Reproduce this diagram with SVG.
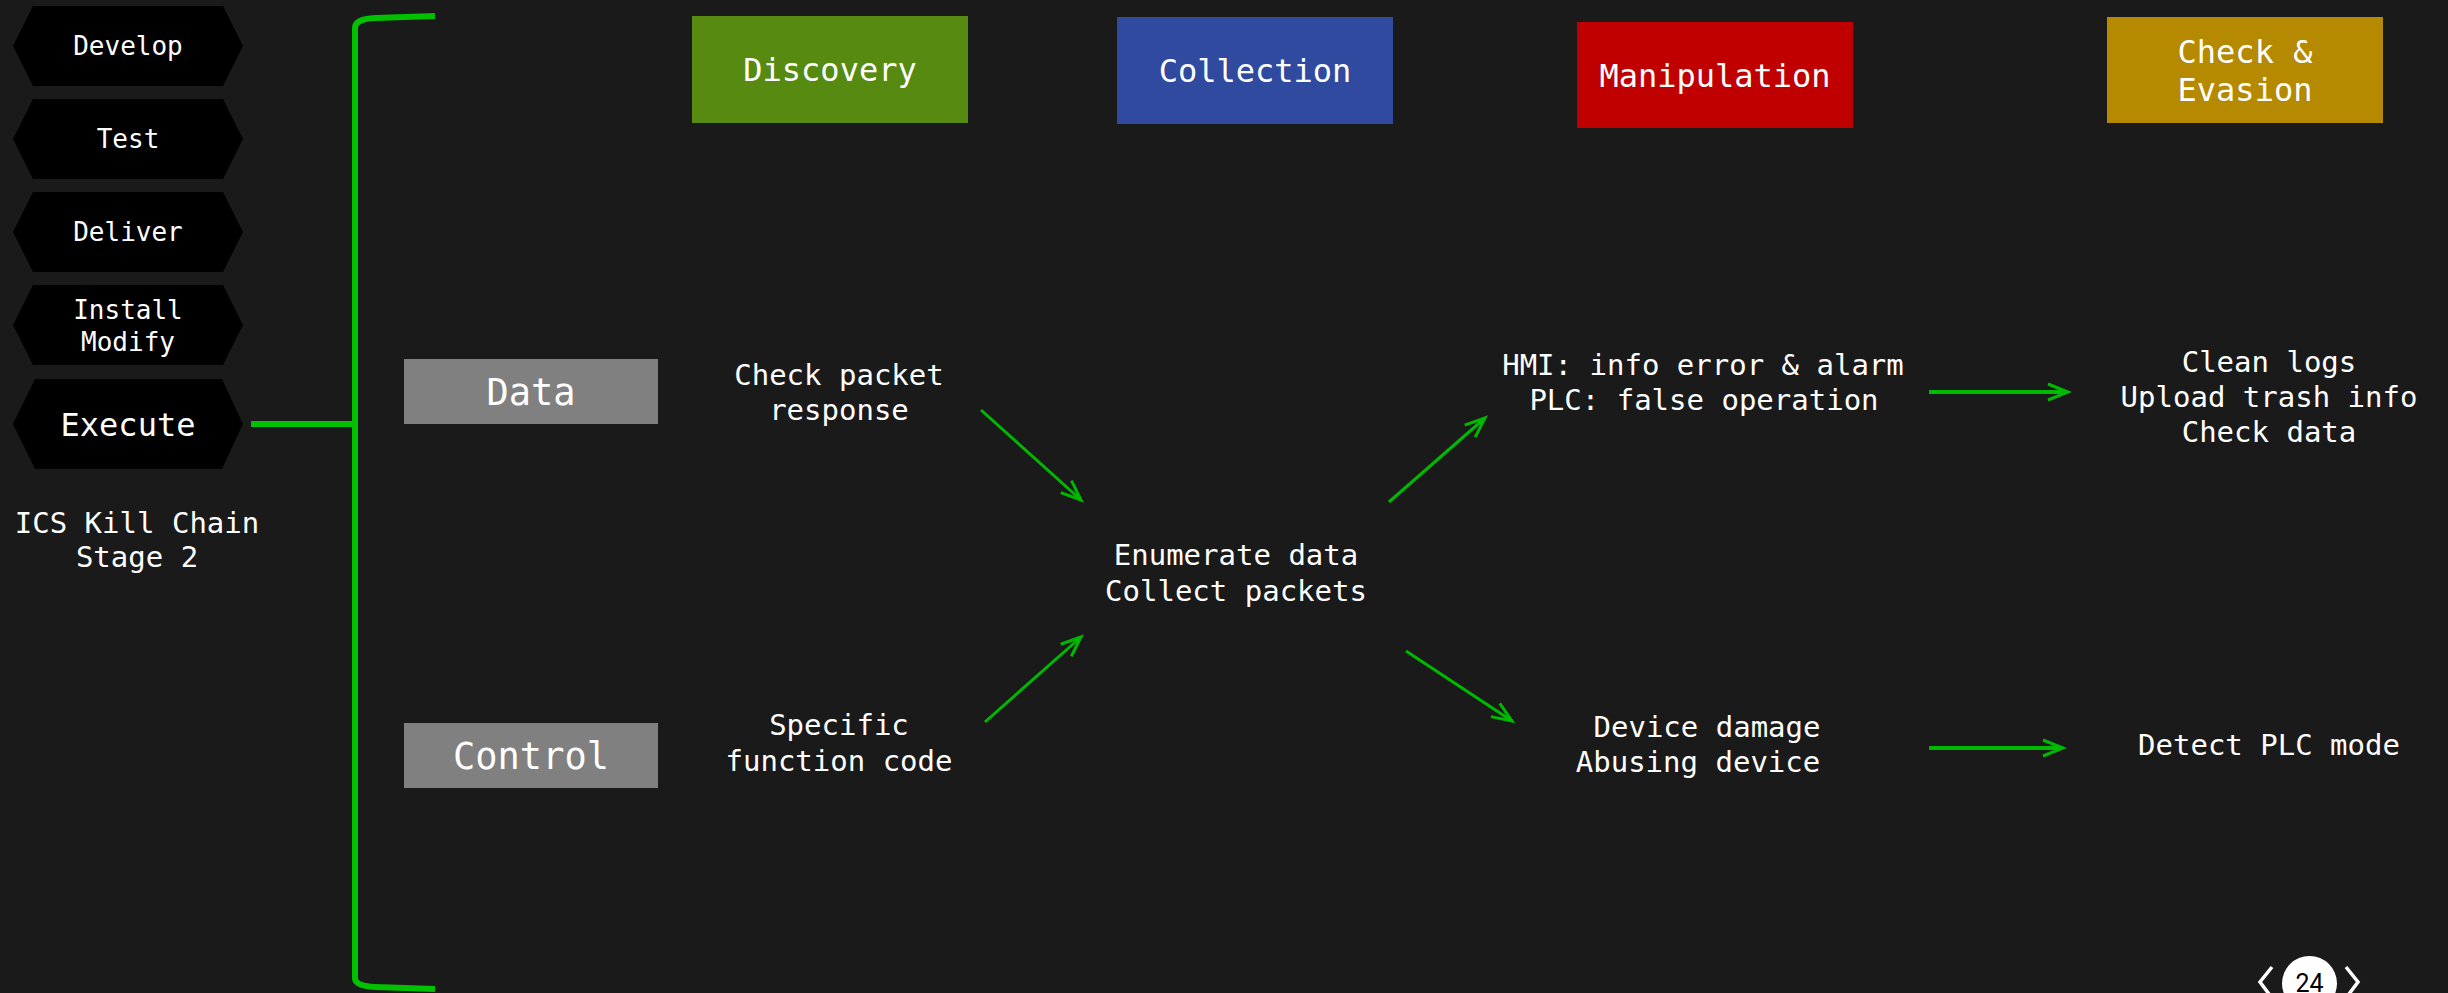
<svg xmlns="http://www.w3.org/2000/svg" width="2448" height="993" viewBox="0 0 2448 993">
  <defs>
    <style>
      .t { font-family: "DejaVu Sans Mono", monospace; fill: #ffffff; text-anchor: middle; }
      .hex { fill: #000000; }
      .hx { font-size: 26px; }
      .body { font-size: 29px; }
      .head { font-size: 32px; }
      .cat { font-size: 37px; }
      .catbox { fill: #808080; }
      .link { stroke: #00b800; stroke-width: 3; fill: none; marker-end: url(#arrow); }
      .link.h { stroke-width: 4; }
      .brace { stroke: #00c000; stroke-width: 6; fill: none; }
    </style>
    <marker id="arrow" viewBox="-22 -12 26 24" markerWidth="26" markerHeight="24" refX="0" refY="0" orient="auto" markerUnits="userSpaceOnUse">
      <path d="M -20 -8 L 0 0 L -20 8" fill="none" stroke="#00b800" stroke-width="3" stroke-linejoin="miter"/>
    </marker>
  </defs>

  <rect width="2448" height="993" fill="#1a1a1a"/>

  <!-- kill chain steps -->
  <g id="step-develop">
    <polygon class="hex" points="13,46 33,6 223,6 243,46 223,86 33,86"/>
    <text class="t hx" x="128" y="55">Develop</text>
  </g>
  <g id="step-test">
    <polygon class="hex" points="13,139 33,99 223,99 243,139 223,179 33,179"/>
    <text class="t hx" x="128" y="148">Test</text>
  </g>
  <g id="step-deliver">
    <polygon class="hex" points="13,232 33,192 223,192 243,232 223,272 33,272"/>
    <text class="t hx" x="128" y="241">Deliver</text>
  </g>
  <g id="step-install">
    <polygon class="hex" points="13,325 33,285 223,285 243,325 223,365 33,365"/>
    <text class="t hx" x="128" y="319">Install</text>
    <text class="t hx" x="128" y="351">Modify</text>
  </g>
  <g id="step-execute">
    <polygon class="hex" points="13,424 35,379 222,379 243,424 222,469 35,469"/>
    <text class="t" style="font-size:32px" x="128" y="436">Execute</text>
  </g>
  <g id="stage-title">
    <text class="t body" x="137" y="533">ICS Kill Chain</text>
    <text class="t body" x="137" y="567">Stage 2</text>
  </g>

  <!-- phase headers -->
  <g id="phase-discovery">
    <rect x="692" y="16" width="276" height="107" fill="#578a10"/>
    <text class="t head" x="830" y="81">Discovery</text>
  </g>
  <g id="phase-collection">
    <rect x="1117" y="17" width="276" height="107" fill="#2f4a9e"/>
    <text class="t head" x="1255" y="82">Collection</text>
  </g>
  <g id="phase-manipulation">
    <rect x="1577" y="22" width="276" height="106" fill="#c00000"/>
    <text class="t head" x="1715" y="87">Manipulation</text>
  </g>
  <g id="phase-evasion">
    <rect x="2107" y="17" width="276" height="106" fill="#b58900"/>
    <text class="t head" x="2245" y="63">Check &amp;</text>
    <text class="t head" x="2245" y="101">Evasion</text>
  </g>

  <!-- categories -->
  <g id="cat-data">
    <rect class="catbox" x="404" y="359" width="254" height="65"/>
    <text class="t cat" x="531" y="405">Data</text>
  </g>
  <g id="cat-control">
    <rect class="catbox" x="404" y="723" width="254" height="65"/>
    <text class="t cat" x="531" y="769">Control</text>
  </g>

  <!-- activities -->
  <g id="act-check-packet">
    <text class="t body" x="839" y="385">Check packet</text>
    <text class="t body" x="839" y="420">response</text>
  </g>
  <g id="act-function-code">
    <text class="t body" x="839" y="735">Specific</text>
    <text class="t body" x="839" y="771">function code</text>
  </g>
  <g id="act-enumerate">
    <text class="t body" x="1236" y="565">Enumerate data</text>
    <text class="t body" x="1236" y="601">Collect packets</text>
  </g>
  <g id="act-hmi-plc">
    <text class="t body" x="1703" y="375">HMI: info error &amp; alarm</text>
    <text class="t body" x="1704" y="410">PLC: false operation</text>
  </g>
  <g id="act-device">
    <text class="t body" x="1707" y="737">Device damage</text>
    <text class="t body" x="1698" y="772">Abusing device</text>
  </g>
  <g id="act-clean">
    <text class="t body" x="2269" y="372">Clean logs</text>
    <text class="t body" x="2269" y="407">Upload trash info</text>
    <text class="t body" x="2269" y="442">Check data</text>
  </g>
  <g id="act-detect">
    <text class="t body" x="2269" y="755">Detect PLC mode</text>
  </g>

  <!-- connectors -->
  <g id="connectors">
    <path class="brace" d="M 435 16 L 375 18 Q 355 19 355 28 L 355 978 Q 355 986 375 987 L 435 989"/>
    <path class="brace" d="M 251 424 L 355 424"/>
    <path class="link" d="M 981 410 L 1081 500"/>
    <path class="link" d="M 985 722 L 1081 637"/>
    <path class="link" d="M 1389 502 L 1485 418"/>
    <path class="link" d="M 1406 651 L 1512 721"/>
    <path class="link h" d="M 1929 392 L 2068 392"/>
    <path class="link h" d="M 1929 748 L 2063 748"/>
  </g>

  <!-- page indicator -->
  <g id="page-nav">
    <circle cx="2309.5" cy="983.5" r="27.5" fill="#ffffff"/>
    <text x="2309.5" y="992" font-family="Roboto, sans-serif" font-size="25" fill="#000000" text-anchor="middle">24</text>
    <polyline points="2272,967 2260,982 2272,998" fill="none" stroke="#ffffff" stroke-width="3.5"/>
    <polyline points="2346,967 2358,982 2346,998" fill="none" stroke="#ffffff" stroke-width="3.5"/>
  </g>
</svg>
